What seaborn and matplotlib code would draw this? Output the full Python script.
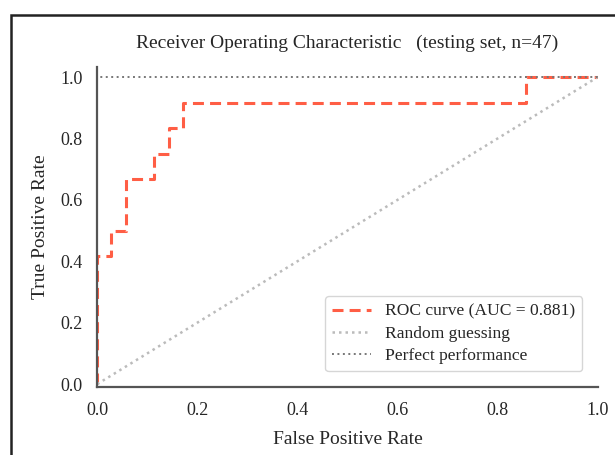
import seaborn as sns
import matplotlib.pyplot as plt
from matplotlib.patches import Rectangle

# ROC points (12 positives, 35 negatives)
fpr = [0.0, 0.0, 0.0286, 0.0286, 0.0571, 0.0571, 0.1143, 0.1143,
       0.1429, 0.1429, 0.1714, 0.1714, 0.8571, 0.8571, 1.0]
tpr = [0.0, 0.4167, 0.4167, 0.5, 0.5, 0.6667, 0.6667, 0.75,
       0.75, 0.8333, 0.8333, 0.9167, 0.9167, 1.0, 1.0]
auc = 0.881
random_x = [0.0, 1.0]
random_y = [0.0, 1.0]
perfect_x = [0.0, 0.0, 1.0]
perfect_y = [0.0, 1.0, 1.0]

sns.set_style('white')
plt.rcParams['font.family'] = ['Liberation Serif', 'DejaVu Serif']
plt.rcParams['axes.edgecolor'] = '#555555'
plt.rcParams['axes.linewidth'] = 1.6

fig = plt.figure(figsize=(6.15, 4.55), dpi=100)
ax = fig.add_axes([0.158, 0.149, 0.814, 0.704])

sns.lineplot(x=fpr, y=tpr, sort=False, estimator=None, ax=ax,
             color='#ff5e45', lw=2.2, linestyle=(0, (3.6, 2.0)),
             label=f'ROC curve (AUC = {auc:.3f})')
sns.lineplot(x=random_x, y=random_y, sort=False, estimator=None, ax=ax,
             color='#bbbbbb', lw=1.8, linestyle=(0, (1, 1.6)),
             label='Random guessing')
sns.lineplot(x=perfect_x, y=perfect_y, sort=False, estimator=None, ax=ax,
             color='#777777', lw=1.4, linestyle=(0, (1, 1.8)),
             label='Perfect performance')

ax.set_xlim(0.0, 1.0)
ax.set_ylim(-0.01, 1.033)
ax.set_xticks([0.0, 0.2, 0.4, 0.6, 0.8, 1.0])
ax.set_yticks([0.0, 0.2, 0.4, 0.6, 0.8, 1.0])
ax.tick_params(labelsize=13, pad=7)
ax.set_xlabel('False Positive Rate', fontsize=14, labelpad=9)
ax.set_ylabel('True Positive Rate', fontsize=14, labelpad=8)
ax.set_title('Receiver Operating Characteristic   (testing set, n=47)',
             fontsize=14, pad=14)
sns.despine(ax=ax)

leg = ax.legend(loc='lower right', fontsize=12.6, handlelength=2.2,
                labelspacing=0.35, borderaxespad=0.9, frameon=True)
leg.get_frame().set_edgecolor('#cccccc')

fig.patches.append(Rectangle((11 / 615, -0.1), 1.2, 1 - 15 / 455 + 0.1,
                             transform=fig.transFigure, fill=False,
                             edgecolor='#222222', lw=1.8, figure=fig))

fig.savefig('out.png', dpi=100)
